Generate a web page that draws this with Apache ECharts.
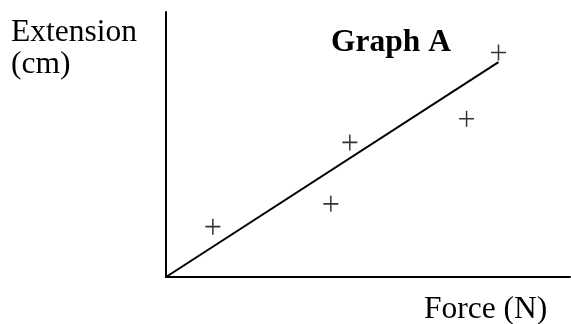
<!DOCTYPE html>
<html>
<head>
<meta charset="utf-8">
<script src="https://cdn.jsdelivr.net/npm/echarts@6/dist/echarts.min.js"></script>
<style>html,body{margin:0;padding:0;background:#fff}#c{width:571px;height:324px}</style>
</head>
<body>
<div id="c"></div>
<script>
// Force values (arbitrary units)
const forceValues = [1.16, 4.08, 4.55, 7.44, 8.23];
// Extension values
const extensionValues = [1.90, 2.76, 5.08, 5.97, 8.47];
// Best fit line endpoints
const fitForce = [0, 8.23];
const fitExtension = [0, 8.11];

const titleText = 'Graph A';
const yLabelLines = ['Extension', '(cm)'];
const xLabelText = 'Force (N)';

const points = forceValues.map((f, i) => [f, extensionValues[i]]);
const fitLine = fitForce.map((f, i) => [f, fitExtension[i]]);

const serif = '"Liberation Serif", "Times New Roman", serif';
const chart = echarts.init(document.getElementById('c'), null, {renderer: 'canvas'});
chart.setOption({
  animation: false,
  backgroundColor: '#fff',
  grid: {left: 166, top: 12, right: 1, bottom: 47},
  xAxis: {
    type: 'value', min: 0, max: 10,
    axisLine: {show: true, onZero: false, lineStyle: {color: '#000', width: 2}},
    axisTick: {show: false}, axisLabel: {show: false}, splitLine: {show: false}
  },
  yAxis: {
    type: 'value', min: 0, max: 10,
    axisLine: {show: true, onZero: false, lineStyle: {color: '#000', width: 2}},
    axisTick: {show: false}, axisLabel: {show: false}, splitLine: {show: false}
  },
  series: [
    {
      type: 'line', data: fitLine, symbol: 'none',
      lineStyle: {color: '#000', width: 2}, z: 2
    },
    {
      type: 'scatter', data: points,
      symbol: 'path://M14.4,0H17.6V14.4H32V17.6H17.6V32H14.4V17.6H0V14.4H14.4Z',
      symbolSize: [15, 16],
      itemStyle: {color: '#000'}, z: 3
    }
  ],
  graphic: [
    {type: 'text', left: 11, top: 17, style: {text: yLabelLines[0], font: '31.5px ' + serif, fill: '#000'}},
    {type: 'text', left: 11, top: 49, style: {text: yLabelLines[1], font: '31.5px ' + serif, fill: '#000'}},
    {type: 'text', left: 331, top: 27, style: {text: titleText, font: 'bold 31.5px ' + serif, fill: '#000'}},
    {type: 'text', left: 424, top: 294, style: {text: xLabelText, font: '31.5px ' + serif, fill: '#000'}}
  ]
});
</script>
</body>
</html>
